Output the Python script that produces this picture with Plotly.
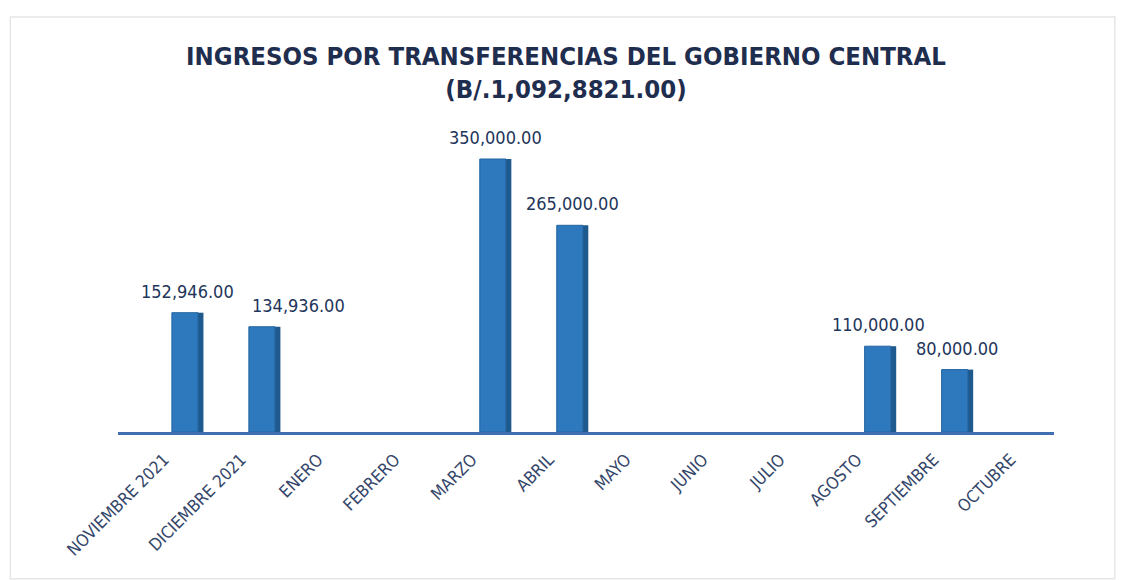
import plotly.graph_objects as go

categories = ["NOVIEMBRE 2021", "DICIEMBRE 2021", "ENERO", "FEBRERO", "MARZO", "ABRIL",
              "MAYO", "JUNIO", "JULIO", "AGOSTO", "SEPTIEMBRE", "OCTUBRE"]
values = [152946, 134936, None, None, 350000, 265000, None, None, None, 110000, 80000, None]
title_line1 = "INGRESOS POR TRANSFERENCIAS DEL GOBIERNO CENTRAL"
title_line2 = "(B/.1,092,8821.00)"

# label horizontal nudges (px) - style only
label_xshift = [0, 34, 0, 0, 0, 0, 0, 0, 0, -2, 0, 0]

idx = list(range(len(categories)))

NARROW = "DejaVu Sans Condensed, Liberation Sans Narrow, Liberation Sans, Arial"
TXT = "#22355A"

fig = go.Figure()
# side face (darker) for a pseudo-3D look
fig.add_trace(go.Bar(
    x=idx, y=values, width=0.075, offset=0.135,
    marker=dict(color="#1E5A8E", line=dict(width=0)),
    hoverinfo="skip", showlegend=False,
))
# front face
fig.add_trace(go.Bar(
    x=idx, y=values, width=0.34, offset=-0.2,
    marker=dict(color="#2E78BE", line=dict(color="#23649F", width=1)),
    showlegend=False,
))

annotations = []
for i, v in zip(idx, values):
    if v is None:
        continue
    annotations.append(dict(
        x=i, y=v, xref="x", yref="y", text=f"{v:,.2f}", showarrow=False,
        xanchor="center", yanchor="bottom", yshift=9, xshift=label_xshift[i],
        font=dict(family=NARROW, size=18, color=TXT),
    ))

fig.update_layout(
    width=1116, height=572,
    paper_bgcolor="white", plot_bgcolor="white",
    barmode="overlay",
    margin=dict(l=110, r=70, t=112, b=148),
    title=dict(
        text=f"<b>{title_line1}<br>{title_line2}</b>",
        x=0.5, xanchor="center", y=0.9, yanchor="top",
        font=dict(family=NARROW, size=25.5, color="#1F2D4E"),
    ),
    xaxis=dict(
        range=[-0.9, 11.26],
        tickmode="array",
        tickvals=[i - 0.3 for i in idx],
        ticktext=categories,
        tickangle=-45,
        tickfont=dict(family=NARROW, size=17, color="#34466A"),
        ticklabelstandoff=8,
        showline=True, linecolor="#3F6FB0", linewidth=3,
        showgrid=False, zeroline=False, ticks="",
    ),
    yaxis=dict(
        range=[0, 400000], visible=False, showgrid=False, zeroline=False,
    ),
    annotations=annotations,
    shapes=[dict(type="rect", xref="paper", yref="paper",
                 x0=-0.115, x1=1.065, y0=-0.47, y1=1.33,
                 line=dict(color="#E6E6E6", width=1.5), fillcolor="rgba(0,0,0,0)")],
)

fig.write_html("out.html")
